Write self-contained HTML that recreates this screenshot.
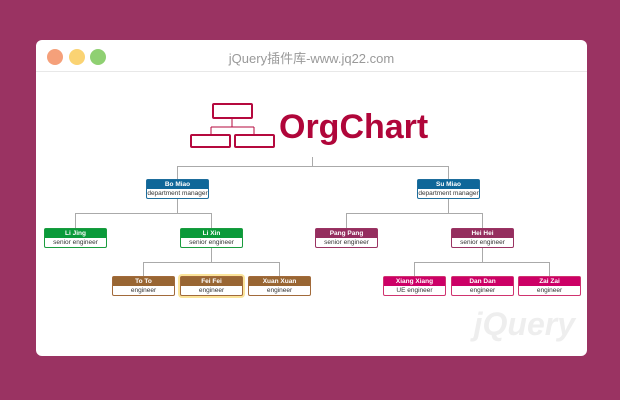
<!DOCTYPE html>
<html><head><meta charset="utf-8"><style>
body{margin:0;width:620px;height:400px;background:#9a3362;position:relative;overflow:hidden;font-family:"Liberation Sans","Noto Sans CJK SC",sans-serif}
.card{position:absolute;left:36px;top:40px;width:551px;height:316px;background:#fff;border-radius:6px}
.bar{position:absolute;left:0;top:0;width:551px;height:31px;border-bottom:1px solid #e8e8e8}
.dot{position:absolute;top:9px;width:16px;height:16px;border-radius:50%}
.t{position:absolute;left:0;width:551px;top:8px;text-align:center;color:#999;font-size:13px}
.n{position:absolute;width:61px;height:18px;border:1px solid;border-radius:2px;background:#fff;font-size:6.5px;text-align:center}
.n .h{height:9px;line-height:9px;color:#fff;font-weight:bold}
.n .c{height:9px;line-height:9px;color:#333}
</style></head><body>
<div class="card">
<div class="bar">
<div class="dot" style="left:11px;background:#f5a07a"></div>
<div class="dot" style="left:33px;background:#fad373"></div>
<div class="dot" style="left:54px;background:#8fd072"></div>
<div class="t">jQuery插件库-www.jq22.com</div>
</div>
</div>
<svg style="position:absolute;left:0;top:0" width="620" height="400">
<g fill="none" stroke="#b5093e" stroke-width="2">
<rect x="213" y="104" width="39" height="14" rx="1"/>
<rect x="191" y="135" width="39" height="12" rx="1"/>
<rect x="235" y="135" width="39" height="12" rx="1"/>
</g>
<g fill="none" stroke="#b5093e" stroke-width="1">
<path d="M232 118V127M211 127H254M211 127V135M254 127V135"/>
</g>
<text x="279" y="138" font-family="Liberation Sans" font-weight="bold" font-size="34" fill="#b0063a">OrgChart</text>
<g stroke="#aaa" stroke-width="1" fill="none">
<path d="M312.5 157V166.5M177.5 166.5H448.5M177.5 166V180M448.5 166V180"/>
<path d="M177.5 198V213.5M75.5 213.5H211.5M75.5 213V228M211.5 213V228"/>
<path d="M448.5 198V213.5M346.5 213.5H482.5M346.5 213V228M482.5 213V228"/>
<path d="M211.5 247V262.5M143.5 262.5H279.5M143.5 262V276M279.5 262V276"/>
<path d="M482.5 247V262.5M414.5 262.5H549.5M414.5 262V276M549.5 262V276"/>
</g>
<text x="575" y="335" text-anchor="end" font-family="Liberation Sans" font-weight="bold" font-style="italic" font-size="32" fill="#eeeeee">jQuery</text>
</svg>
<div class="n" style="left:146px;top:179px;border-color:#1d6d9c"><div class="h" style="background:#0f6799">Bo Miao</div><div class="c">department manager</div></div>
<div class="n" style="left:417px;top:179px;border-color:#1d6d9c"><div class="h" style="background:#0f6799">Su Miao</div><div class="c">department manager</div></div>
<div class="n" style="left:44px;top:228px;border-color:#1a9c3e"><div class="h" style="background:#0a9a3a">Li Jing</div><div class="c">senior engineer</div></div>
<div class="n" style="left:180px;top:228px;border-color:#1a9c3e"><div class="h" style="background:#0a9a3a">Li Xin</div><div class="c">senior engineer</div></div>
<div class="n" style="left:315px;top:228px;border-color:#9a3362"><div class="h" style="background:#952e5f">Pang Pang</div><div class="c">senior engineer</div></div>
<div class="n" style="left:451px;top:228px;border-color:#9a3362"><div class="h" style="background:#952e5f">Hei Hei</div><div class="c">senior engineer</div></div>
<div class="n" style="left:112px;top:276px;border-color:#a26a3a"><div class="h" style="background:#996633">To To</div><div class="c">engineer</div></div>
<div class="n" style="left:180px;top:276px;border-color:#a26a3a;box-shadow:0 0 0 2px #fbe49a"><div class="h" style="background:#996633">Fei Fei</div><div class="c">engineer</div></div>
<div class="n" style="left:248px;top:276px;border-color:#a26a3a"><div class="h" style="background:#996633">Xuan Xuan</div><div class="c">engineer</div></div>
<div class="n" style="left:383px;top:276px;border-color:#d0336f"><div class="h" style="background:#cc0066">Xiang Xiang</div><div class="c">UE engineer</div></div>
<div class="n" style="left:451px;top:276px;border-color:#d0336f"><div class="h" style="background:#cc0066">Dan Dan</div><div class="c">engineer</div></div>
<div class="n" style="left:518px;top:276px;border-color:#d0336f"><div class="h" style="background:#cc0066">Zai Zai</div><div class="c">engineer</div></div>
</body></html>
